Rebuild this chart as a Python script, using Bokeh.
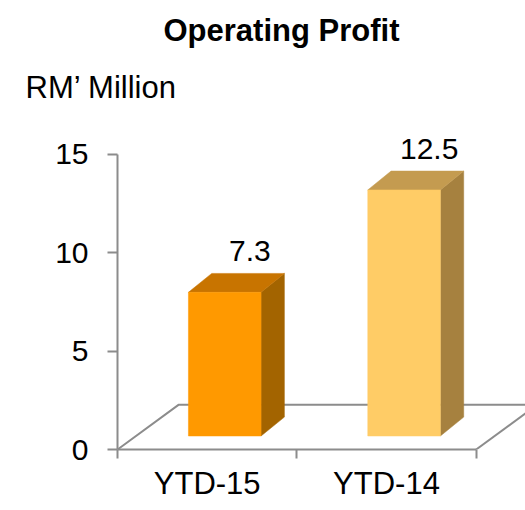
import numpy as np
from bokeh.plotting import figure
from bokeh.models import Range1d, FixedTicker, Title, ColumnDataSource
from bokeh.embed import file_html
from bokeh.resources import INLINE
from bokeh.core.properties import value

# ---- data ----
categories = ["YTD-15", "YTD-14"]
profit = [7.3, 12.5]
value_labels = ["7.3", "12.5"]
y_ticks = [0, 5, 10, 15]
front_colors = ["#FF9900", "#FFCC66"]
top_colors = ["#C87400", "#C49B50"]
side_colors = ["#A36400", "#A6813F"]

title_text = "Operating Profit"
unit_text = "RM\u2019 Million"

# ---- style / geometry constants (data units) ----
FONT = "Liberation Sans"
FS_NUM = "30px"
FS_TXT = "31px"
GRAY = "#8C8C8C"
BAR_W = 0.405
FRONT_DX, FRONT_DY = 0.098, 0.686
DEPTH_DX, DEPTH_DY = 0.130, 0.96
FLOOR_DX, FLOOR_DY = 0.340, 2.27
LBL_DX, LBL_DY = 0.14, 1.14

n = len(categories)
vals = np.array(profit, dtype=float)

p = figure(width=525, height=510, output_backend="svg", toolbar_location=None,
           x_range=Range1d(0, 2.275), y_range=Range1d(0, 17.02),
           min_border_left=117, min_border_right=0, min_border_top=112,
           min_border_bottom=61)
p.grid.visible = False
p.outline_line_color = None
p.background_fill_color = "white"
p.border_fill_color = "white"

centers = [i + 0.5 for i in range(n)]
xa = p.xaxis[0]
xa.ticker = FixedTicker(ticks=centers, minor_ticks=list(range(n + 1)))
xa.major_label_overrides = {c: cat for c, cat in zip(centers, categories)}
xa.bounds = (0, n)
xa.major_tick_out = 0
xa.major_tick_in = 0
xa.minor_tick_out = 9
xa.minor_tick_in = 0
xa.minor_tick_line_color = GRAY
xa.minor_tick_line_width = 2
xa.axis_line_color = GRAY
xa.axis_line_width = 2
xa.major_label_standoff = 7
xa.major_label_text_font = FONT
xa.major_label_text_font_size = FS_TXT
xa.major_label_text_color = "black"

ya = p.yaxis[0]
ya.ticker = FixedTicker(ticks=y_ticks, minor_ticks=[])
ya.bounds = (y_ticks[0], y_ticks[-1])
ya.major_tick_out = 10
ya.major_tick_in = 0
ya.major_tick_line_color = GRAY
ya.major_tick_line_width = 2
ya.axis_line_color = GRAY
ya.axis_line_width = 2
ya.major_label_standoff = 19
ya.major_label_text_font = FONT
ya.major_label_text_font_size = FS_NUM
ya.major_label_text_color = "black"

# floor
p.multi_line(xs=[[0, FLOOR_DX, n + FLOOR_DX], [n, n + FLOOR_DX]],
             ys=[[0, FLOOR_DY, FLOOR_DY], [0, FLOOR_DY]],
             line_color=GRAY, line_width=2)

# bars
xc = np.arange(n) + 0.5 + FRONT_DX
left = xc - BAR_W / 2
right = xc + BAR_W / 2
bottom = np.full(n, FRONT_DY)
top = bottom + vals

side_src = ColumnDataSource(dict(
    xs=[[r, r + DEPTH_DX, r + DEPTH_DX, r] for r in right],
    ys=[[b, b + DEPTH_DY, t + DEPTH_DY, t] for b, t in zip(bottom, top)],
    c=side_colors))
p.patches("xs", "ys", source=side_src, fill_color="c", line_color="c", line_width=0.5)

top_src = ColumnDataSource(dict(
    xs=[[l, l + DEPTH_DX, r + DEPTH_DX, r] for l, r in zip(left, right)],
    ys=[[t, t + DEPTH_DY, t + DEPTH_DY, t] for t in top],
    c=top_colors))
p.patches("xs", "ys", source=top_src, fill_color="c", line_color="c", line_width=0.5)

front_src = ColumnDataSource(dict(left=left, right=right, top=top, bottom=bottom,
                                  c=front_colors))
p.quad(left="left", right="right", top="top", bottom="bottom", source=front_src,
       fill_color="c", line_color="c", line_width=0.5)

lbl_src = ColumnDataSource(dict(x=xc + LBL_DX, y=top + DEPTH_DY + LBL_DY, t=value_labels))
p.text(x="x", y="y", text="t", source=lbl_src, text_align="center",
       text_baseline="alphabetic", text_font=value(FONT), text_font_size=FS_NUM,
       text_color="black")

# unit label (nearest the frame) and main title
p.add_layout(Title(text=unit_text, align="left", offset=-92, standoff=20,
                   text_font=FONT, text_font_size=FS_TXT, text_font_style="normal",
                   text_color="black"), "above")
p.add_layout(Title(text=title_text, align="left", offset=46, standoff=20,
                   text_font=FONT, text_font_size=FS_TXT, text_font_style="bold",
                   text_color="black"), "above")

open("out.html", "w").write(file_html(p, INLINE))
